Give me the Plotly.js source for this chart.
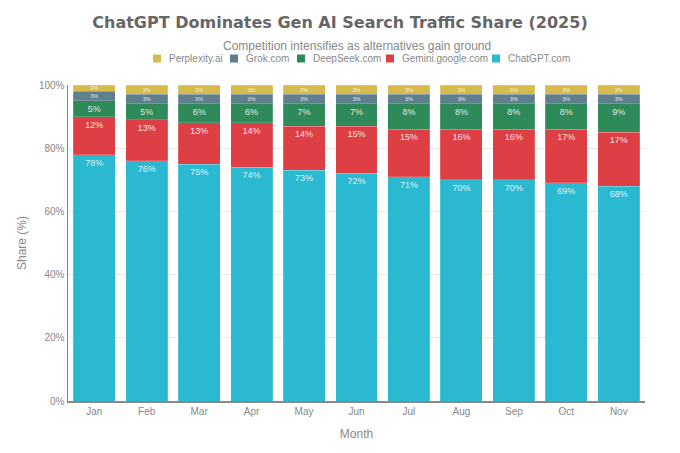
<!DOCTYPE html>
<html>
<head>
<meta charset="utf-8">
<script src="https://cdn.plot.ly/plotly-3.0.1.min.js"></script>
<style>html,body{margin:0;padding:0;background:#fff;}#chart{width:680px;height:453px;}</style>
</head>
<body>
<div id="chart"></div>
<script>
const months = ["Jan","Feb","Mar","Apr","May","Jun","Jul","Aug","Sep","Oct","Nov"];
const chatgpt    = [78,76,75,74,73,72,71,70,70,69,68];
const gemini     = [12,13,13,14,14,15,15,16,16,17,17];
const deepseek   = [5,5,6,6,7,7,8,8,8,8,9];
const grok       = [3,3,3,3,3,3,3,3,3,3,3];
const perplexity = [2,3,3,3,3,3,3,3,3,3,3];

const seriesNames = ["ChatGPT.com","Gemini.google.com","DeepSeek.com","Grok.com","Perplexity.ai"];
const seriesData = [chatgpt, gemini, deepseek, grok, perplexity];
const colors = ["#2bb9d2","#dd3f45","#2f8a59","#5e7f8b","#d6bb4c"];

const W = 680, H = 453;
const M = {l: 68, r: 35, t: 85, b: 52};
const PW = W - M.l - M.r, PH = H - M.t - M.b;
const px2x = p => (p - M.l) / PW;
const px2y = p => (H - M.b - p) / PH;

const traces = seriesData.map((vals, i) => {
  const small = i >= 3;
  return {
    type: 'bar',
    name: seriesNames[i],
    x: months,
    y: vals,
    text: vals.map(v => v + '%'),
    textposition: 'inside',
    insidetextanchor: small ? 'middle' : 'end',
    constraintext: small ? 'none' : 'both',
    textangle: 0,
    textfont: {family: 'Liberation Sans, Arial, sans-serif', size: small ? 5.5 : 9, color: 'rgba(255,255,255,0.85)'},
    marker: {color: colors[i], line: {color: 'rgba(255,255,255,0.35)', width: 0.5}},
    hoverinfo: 'skip',
    showlegend: false
  };
});

// manual legend (reversed order: top series first)
const legendLeft = [153, 230, 297, 386, 492];
const legendY = 58.5;
const shapes = [];
const annotations = [{
  text: 'Competition intensifies as alternatives gain ground',
  xref: 'paper', yref: 'paper', x: 0.5, y: px2y(46),
  xanchor: 'center', yanchor: 'middle', showarrow: false,
  font: {size: 12, color: '#888'}
}];
for (let k = 0; k < seriesNames.length; k++) {
  const i = seriesNames.length - 1 - k;
  const left = legendLeft[k];
  shapes.push({
    type: 'rect', xref: 'paper', yref: 'paper',
    x0: px2x(left), x1: px2x(left + 8),
    y0: px2y(legendY + 4), y1: px2y(legendY - 4),
    fillcolor: colors[i], line: {width: 0}
  });
  annotations.push({
    text: seriesNames[i], xref: 'paper', yref: 'paper',
    x: px2x(left + 14), y: px2y(legendY),
    xanchor: 'left', yanchor: 'middle', showarrow: false,
    font: {size: 10, color: '#888'}
  });
}

const layout = {
  width: W, height: H,
  barmode: 'stack',
  bargap: 0.2,
  paper_bgcolor: '#fff', plot_bgcolor: '#fff',
  margin: M,
  showlegend: false,
  font: {family: 'Liberation Sans, Arial, sans-serif', color: '#888'},
  title: {
    text: 'ChatGPT Dominates Gen AI Search Traffic Share (2025)',
    font: {family: 'DejaVu Sans, Verdana, sans-serif', size: 16, color: '#666', weight: 'bold'},
    x: 0.5, xanchor: 'center', y: 1 - 22 / H, yanchor: 'middle'
  },
  shapes: shapes,
  annotations: annotations,
  xaxis: {
    title: {text: 'Month', font: {size: 12, color: '#888'}, standoff: 14},
    showline: true, linecolor: '#888', linewidth: 1.5,
    ticks: '', tickfont: {size: 10, color: '#888'},
    showgrid: false
  },
  yaxis: {
    title: {text: 'Share (%)', font: {size: 12, color: '#888'}, standoff: 9},
    range: [0, 100], tickvals: [0,20,40,60,80,100], ticktext: ['0%','20%','40%','60%','80%','100%'],
    showline: true, linecolor: '#888', linewidth: 1.5,
    showgrid: true, gridcolor: '#e8e8e8', zeroline: false,
    ticks: '', tickfont: {size: 10, color: '#888'}
  }
};

Plotly.newPlot('chart', traces, layout, {displayModeBar: false, staticPlot: true});
</script>
</body>
</html>
